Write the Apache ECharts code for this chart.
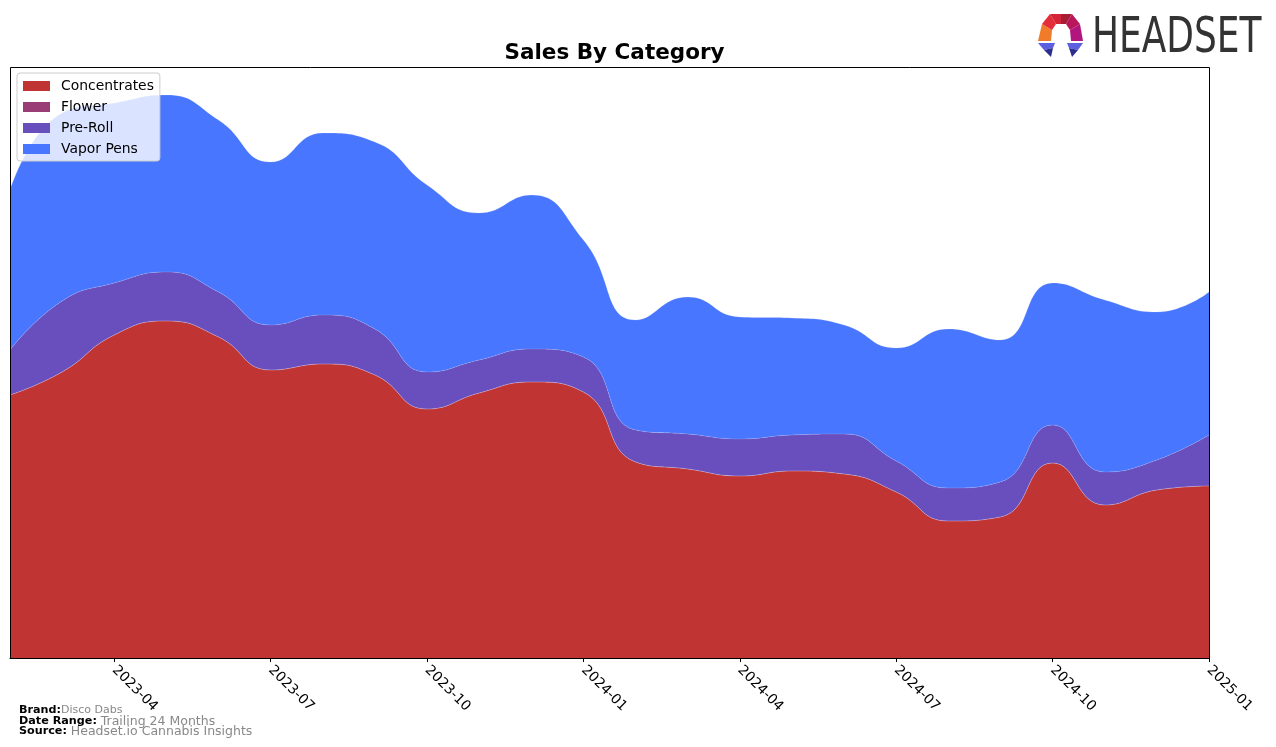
<!DOCTYPE html>
<html>
<head>
<meta charset="utf-8">
<script src="https://cdn.jsdelivr.net/npm/echarts@6/dist/echarts.min.js"></script>
<style>
html,body{margin:0;padding:0;background:#fff;}
#chart{width:1276px;height:747px;}
</style>
</head>
<body>
<div id="chart"></div>
<script>
// ---- data ----
const months = ["2023-02","2023-03","2023-04","2023-05","2023-06","2023-07","2023-08","2023-09","2023-10","2023-11","2023-12","2024-01",
                "2024-02","2024-03","2024-04","2024-05","2024-06","2024-07","2024-08","2024-09","2024-10","2024-11","2024-12","2025-01"];
const tickMonths = ["2023-04","2023-07","2023-10","2024-01","2024-04","2024-07","2024-10","2025-01"];
const concentrates = [263,286,323,337,321,288,294,283,249,265,276,266,196,189,182,187,184,166,137,141,195,153,168,172];
const flower       = [0,0,0,0,0,0,0,0,0,0,0,0,0,0,0,0,0,0,0,0,0,0,0,0];
const preRoll      = [45,71,52,49,45,45,49,46,37,33,33,35,32,35,37,36,40,31,33,35,38,33,30,51];
const vaporPens    = [160,188,180,177,172,163,182,187,187,147,154,117,110,137,122,117,109,113,159,142,142,172,148,143];
const seriesNames  = ["Concentrates","Flower","Pre-Roll","Vapor Pens"];
const seriesColors = ["#C13434","#9A3D76","#694EBD","#4876FF"];
const yMax = 591;

const chart = echarts.init(document.getElementById('chart'), null, {renderer:'canvas'});
const values = [concentrates, flower, preRoll, vaporPens];
const font = "DejaVu Sans, Liberation Sans, sans-serif";

const series = seriesNames.map((n,i)=>({
  name:n, type:'line', stack:'total', smooth:0.5, showSymbol:false, symbol:'none',
  data: values[i],
  lineStyle:{width:0.6, color:'rgba(255,255,255,0.25)'},
  areaStyle:{color:seriesColors[i], opacity:1},
  itemStyle:{color:seriesColors[i]},
  emphasis:{disabled:true},
  z: 2
}));

const isTick = (idx)=> tickMonths.indexOf(months[idx]) >= 0;

const option = {
  animation:false,
  backgroundColor:'#fff',
  title:{
    text:'Sales By Category', left:609.5, top:37, textAlign:'center',
    textStyle:{fontFamily:font, fontWeight:'bold', fontSize:21.5, color:'#000'}
  },
  legend:{
    orient:'vertical', left:17, top:73,
    data: seriesNames.map((n,i)=>({name:n, icon:'rect', itemStyle:{color:seriesColors[i]}})),
    itemWidth:27, itemHeight:10, itemGap:7,
    padding:[6,6,5,6],
    backgroundColor:'rgba(255,255,255,0.8)', borderColor:'#cccccc', borderWidth:1, borderRadius:3,
    textStyle:{fontFamily:font, fontSize:13.9, color:'#000', lineHeight:14, padding:[0,0,0,6]},
    selectedMode:false, z:10
  },
  grid:{left:10, right:67, top:67, bottom:89, containLabel:false, outerBoundsMode:'none'},
  xAxis:{
    type:'category', data:months, boundaryGap:false,
    axisLine:{show:true, lineStyle:{color:'#000', width:1}},
    axisTick:{show:true, interval:(i)=>isTick(i), length:4, lineStyle:{color:'#000'}},
    axisLabel:{show:true, interval:(i)=>isTick(i), rotate:-45, margin:10,
      fontFamily:font, fontSize:13.9, color:'#000'},
    splitLine:{show:false}
  },
  yAxis:{
    type:'value', min:0, max:yMax,
    axisLine:{show:false}, axisTick:{show:false}, axisLabel:{show:false}, splitLine:{show:false}
  },
  series: series,
  graphic:[
    {type:'rect', z:100, silent:true, shape:{x:10.5,y:67.5,width:1199,height:591},
     style:{fill:null, stroke:'#000', lineWidth:1}},
    // footer
    {type:'text', left:19, top:705, z:100, style:{
      text:'{b|Brand:}{v|Disco Dabs}',
      rich:{b:{fontFamily:font, fontWeight:'bold', fontSize:11.2, fill:'#000'},
            v:{fontFamily:font, fontSize:11, fill:'#888'}}}},
    {type:'text', left:19, top:715, z:100, style:{
      text:'{b|Date Range: }{v|Trailing 24 Months}',
      rich:{b:{fontFamily:font, fontWeight:'bold', fontSize:11.2, fill:'#000'},
            v:{fontFamily:font, fontSize:12.5, fill:'#888'}}}},
    {type:'text', left:19, top:725, z:100, style:{
      text:'{b|Source: }{v|Headset.io Cannabis Insights}',
      rich:{b:{fontFamily:font, fontWeight:'bold', fontSize:11.2, fill:'#000'},
            v:{fontFamily:font, fontSize:12.5, fill:'#888'}}}},
    // logo icon
    {type:'group', z:100, children:[
      {type:'polygon', shape:{points:[[1038,41],[1042,24],[1052,30],[1051,41]]}, style:{fill:'#F07B2A'}},
      {type:'polygon', shape:{points:[[1042,24],[1050,14],[1056,24],[1052,30]]}, style:{fill:'#E42D3A'}},
      {type:'polygon', shape:{points:[[1050,14],[1061,14],[1061,24],[1056,24]]}, style:{fill:'#D42538'}},
      {type:'polygon', shape:{points:[[1061,14],[1072,14],[1066,24],[1061,24]]}, style:{fill:'#A81E35'}},
      {type:'polygon', shape:{points:[[1072,14],[1080,24],[1070,30],[1066,24]]}, style:{fill:'#B8175A'}},
      {type:'polygon', shape:{points:[[1080,24],[1083,41],[1071,41],[1070,30]]}, style:{fill:'#B2167E'}},
      {type:'polygon', shape:{points:[[1038,43],[1055,43],[1053,48],[1044,50]]}, style:{fill:'#5B5FE0'}},
      {type:'polygon', shape:{points:[[1044,50],[1053,48],[1051,57]]}, style:{fill:'#2B2D8F'}},
      {type:'polygon', shape:{points:[[1067,43],[1083,43],[1078,50],[1069,48]]}, style:{fill:'#5B5FE0'}},
      {type:'polygon', shape:{points:[[1069,48],[1078,50],[1072,57]]}, style:{fill:'#2B2D8F'}}
    ]},
    {type:'text', x:1092, y:39, scaleX:0.815, z:100, style:{
      text:'HEADSET', fontFamily:'Liberation Sans Narrow, DejaVu Sans Condensed, sans-serif',
      fontSize:49, fill:'#333', verticalAlign:'middle', textAlign:'left'}}
  ]
};
chart.setOption(option);
</script>
</body>
</html>
